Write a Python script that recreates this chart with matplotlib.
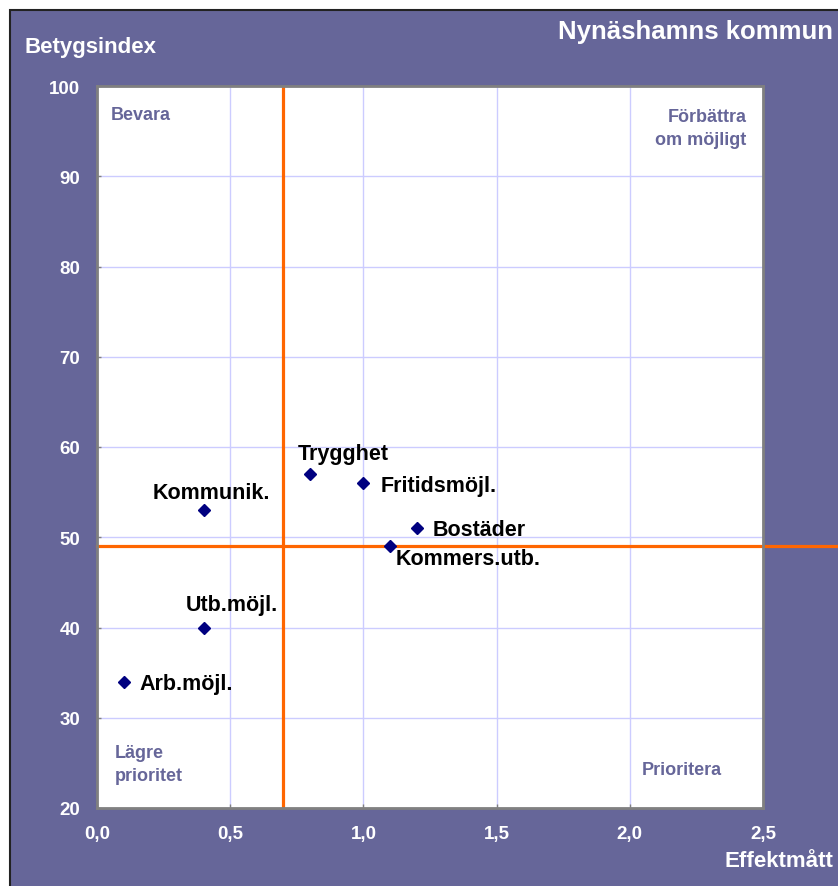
import matplotlib.pyplot as plt
from matplotlib.patches import Rectangle

# datos
namn = ['Trygghet', 'Fritidsmöjl.', 'Kommunik.', 'Bostäder', 'Kommers.utb.', 'Utb.möjl.', 'Arb.möjl.']
effekt = [0.8, 1.0, 0.4, 1.2, 1.1, 0.4, 0.1]
betyg = [57, 56, 53, 51, 49, 40, 34]
# offset de etiquetas en pixeles (dx, dy, ha)
offs = [(33, 21, 'center'), (17, -2, 'left'), (8, 18, 'center'), (16, -1, 'left'),
        (6, -12, 'left'), (28, 23, 'center'), (16, -2, 'left')]

x_ticks = [0.0, 0.5, 1.0, 1.5, 2.0, 2.5]
y_ticks = [20, 30, 40, 50, 60, 70, 80, 90, 100]
x_grans = 0.7
y_grans = 49

lila = '#666699'
orange = '#FF6600'
plt.rcParams['font.family'] = ['Liberation Sans', 'DejaVu Sans']
plt.rcParams['font.weight'] = 'bold'

fig = plt.figure(figsize=(8.38, 8.87), dpi=100)
fig.patch.set_facecolor('white')
fondo = Rectangle((10 / 838, -0.01), 1, (887 - 11) / 887 + 0.01, transform=fig.transFigure,
                  facecolor=lila, edgecolor='#222222', lw=1.5, zorder=-5)
fig.add_artist(fondo)

ax = fig.add_axes([97 / 838, 78 / 887, 666 / 838, 722 / 887])
ax.set_zorder(1)
ax.set_facecolor('white')
ax.set_xlim(0, 2.5)
ax.set_ylim(20, 100)
ax.set_xticks(x_ticks)
ax.set_yticks(y_ticks)
ax.set_xticklabels([f'{v:.1f}'.replace('.', ',') for v in x_ticks])
ax.set_yticklabels([str(v) for v in y_ticks])
ax.tick_params(colors='#808080', labelcolor='white', labelsize=13.5, direction='in', length=3, width=1)
ax.tick_params(axis='x', pad=12)
ax.tick_params(axis='y', pad=12)
ax.grid(True, color='#ccccff', lw=1)
ax.set_axisbelow(True)
for s in ax.spines.values():
    s.set_color('#808080')
    s.set_linewidth(2)

ax.axvline(x_grans, color=orange, lw=2.3, zorder=2)
ax.plot([0, 2.79], [y_grans, y_grans], color=orange, lw=2.3, clip_on=False, zorder=2)

ax.plot(effekt, betyg, 'D', color='#000080', markersize=6.5, zorder=3)
for n, x, y, (dx, dy, ha) in zip(namn, effekt, betyg, offs):
    ax.annotate(n, (x, y), xytext=(dx, dy), textcoords='offset pixels', ha=ha, va='center',
                fontsize=15.5, fontweight='bold', color='black')

# textos de cuadrantes
ax.text(0.02, 0.961, 'Bevara', transform=ax.transAxes, color=lila, fontsize=13, va='center', ha='left')
ax.text(0.975, 0.97, 'Förbättra\nom möjligt', transform=ax.transAxes, color=lila, fontsize=13,
        va='top', ha='right', linespacing=1.45)
ax.text(0.027, 0.061, 'Lägre\nprioritet', transform=ax.transAxes, color=lila, fontsize=13,
        va='center', ha='left', linespacing=1.45)
ax.text(0.938, 0.054, 'Prioritera', transform=ax.transAxes, color=lila, fontsize=13, va='center', ha='right')

fig.text(24 / 838, 1 - 47 / 887, 'Betygsindex', color='white', fontsize=16, ha='left', va='center')
fig.text(833 / 838, 1 - 32 / 887, 'Nynäshamns kommun', color='white', fontsize=18.5, ha='right', va='center')
fig.text(833 / 838, 1 - 862 / 887, 'Effektmått', color='white', fontsize=16, ha='right', va='center')

fig.savefig('out.png', dpi=100, facecolor=fig.get_facecolor())
